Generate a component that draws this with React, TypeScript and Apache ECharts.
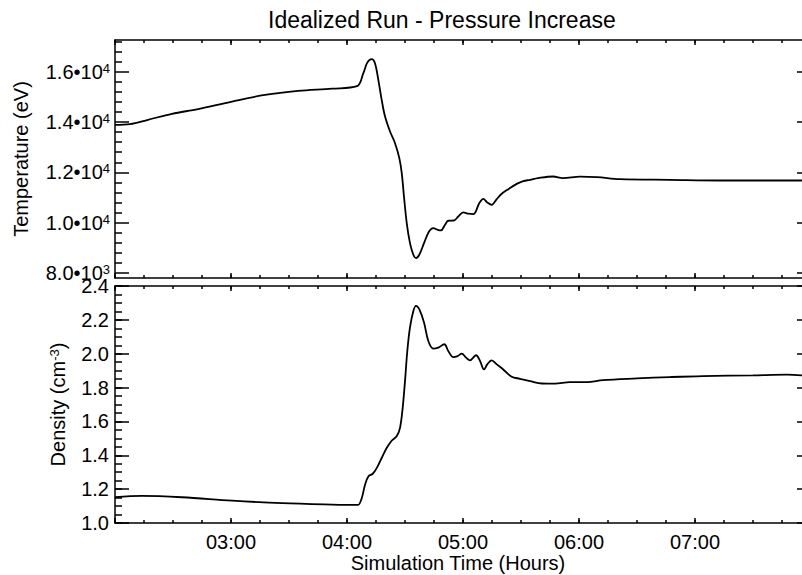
import { useEffect, useRef } from "react";
import * as echarts from "echarts";

const TITLE = "Idealized Run - Pressure Increase";
const X_NAME = "Simulation Time (Hours)";
const TEMP_NAME = "Temperature (eV)";
const DENS_NAME_MAIN = "Density (cm";
const DENS_NAME_SUP = "-3";

const X_MIN = 2;
const X_MAX = 8;
const X_MAJOR = 1;
const X_MINOR = 0.25;
const hourLabels = [3, 4, 5, 6, 7];

const TEMP_MIN = 7790;
const TEMP_MAX = 17270;
const tempTickValues = [8000, 10000, 12000, 14000, 16000];
const tempTickMantissa = ["8.0", "1.0", "1.2", "1.4", "1.6"];
const tempTickExponent = ["3", "4", "4", "4", "4"];
const tempMinorTicks = [
  8400, 8800, 9200, 9600, 10400, 10800, 11200, 11600, 12400, 12800, 13200,
  13600, 14400, 14800, 15200, 15600, 16400, 16800, 17200,
];

const tempTimes = [
  2.0, 2.129, 2.284, 2.491, 2.716, 3.009, 3.293, 3.578, 3.871, 4.086, 4.141,
  4.175, 4.213, 4.241, 4.27, 4.299, 4.328, 4.371, 4.414, 4.451, 4.472, 4.491,
  4.515, 4.543, 4.572, 4.595, 4.623, 4.664, 4.707, 4.744, 4.782, 4.81, 4.845,
  4.873, 4.922, 4.959, 5.003, 5.046, 5.089, 5.141, 5.175, 5.209, 5.247, 5.291,
  5.334, 5.391, 5.463, 5.52, 5.578, 5.647, 5.776, 5.862, 6.009, 6.155, 6.353,
  6.784, 7.216, 7.56, 7.922,
];
const tempValues = [
  13890, 13918, 14090, 14330, 14520, 14820, 15080, 15240, 15330, 15430, 15950,
  16370, 16505, 16345, 15680, 14885, 14220, 13625, 13160, 12565, 11970, 11040,
  9980, 9180, 8715, 8585, 8715, 9180, 9645, 9780, 9710, 9685, 9910, 10070,
  10080, 10240, 10400, 10350, 10335, 10775, 10945, 10800, 10705, 10935, 11145,
  11330, 11540, 11650, 11700, 11768, 11833, 11770, 11830, 11808, 11729, 11700,
  11674, 11674, 11674,
];

const DENS_MIN = 1.0;
const DENS_MAX = 2.4;
const DENS_MAJOR = 0.2;
const DENS_MINOR = 0.05;
const densTimes = [
  2.0, 2.233, 2.578, 3.009, 3.44, 3.871, 4.086, 4.097, 4.127, 4.155, 4.184,
  4.222, 4.256, 4.299, 4.342, 4.385, 4.428, 4.457, 4.48, 4.5, 4.52, 4.543,
  4.572, 4.595, 4.623, 4.664, 4.701, 4.744, 4.787, 4.839, 4.873, 4.916, 4.954,
  4.989, 5.026, 5.06, 5.112, 5.147, 5.181, 5.209, 5.247, 5.291, 5.347, 5.42,
  5.491, 5.578, 5.681, 5.793, 5.922, 6.069, 6.207, 6.5, 6.784, 7.069, 7.5,
  7.793, 7.922,
];
const densValues = [
  1.152, 1.16, 1.152, 1.132, 1.117, 1.109, 1.107, 1.107, 1.146, 1.225, 1.275,
  1.291, 1.324, 1.384, 1.443, 1.486, 1.512, 1.562, 1.68, 1.838, 2.016, 2.155,
  2.253, 2.283, 2.263, 2.184, 2.075, 2.03, 2.036, 2.056, 2.016, 1.98, 1.986,
  2.0, 1.977, 1.961, 1.991, 1.957, 1.907, 1.937, 1.961, 1.937, 1.907, 1.864,
  1.852, 1.838, 1.824, 1.823, 1.832, 1.832, 1.844, 1.854, 1.862, 1.868, 1.872,
  1.876, 1.872,
];

const FONT = "'Liberation Sans', Arial, Helvetica, sans-serif";
const BLACK = "#000000";
const Y_MAJOR_LEN = 14;
const Y_MINOR_LEN = 7;
const X_MAJOR_LEN = 5;
const X_MINOR_LEN = 3;

export default function App() {
  const ref = useRef<HTMLDivElement>(null);

  useEffect(() => {
    if (!ref.current) return;
    const chart = echarts.init(ref.current, undefined, { renderer: "svg" });

    const lineStyle = { color: BLACK, width: 1.5 };
    const textBase = { color: BLACK, fontFamily: FONT, fontSize: 20 };

    const xAxisFor = (gridIndex: number, withLabels: boolean) => {
      const base: any = {
        type: "value",
        gridIndex,
        min: X_MIN,
        max: X_MAX,
        splitLine: { show: false },
        axisLabel: { show: false },
      };
      const major: any = {
        ...base,
        interval: X_MAJOR,
        axisLine: { show: true, onZero: false, lineStyle },
        axisTick: { show: true, inside: true, length: X_MAJOR_LEN, lineStyle },
      };
      const minor: any = {
        ...base,
        interval: X_MINOR,
        axisLine: { show: false, onZero: false },
        axisTick: { show: true, inside: true, length: X_MINOR_LEN, lineStyle },
      };
      return [
        {
          ...major,
          position: "bottom",
          axisLabel: withLabels
            ? {
                show: true,
                margin: 9,
                ...textBase,
                customValues: hourLabels,
                formatter: (v: number) =>
                  (v < 10 ? "0" : "") + String(Math.round(v)) + ":00",
              }
            : { show: false },
          name: withLabels ? X_NAME : "",
          nameLocation: "middle",
          nameGap: 28,
          nameTextStyle: { ...textBase, padding: [0, 10, 0, 0] },
        },
        { ...minor, position: "bottom" },
        { ...major, position: "top" },
        { ...minor, position: "top" },
      ];
    };

    const tempAxisBase: any = {
      type: "value",
      gridIndex: 0,
      min: TEMP_MIN,
      max: TEMP_MAX,
      splitLine: { show: false },
      axisLabel: { show: false },
    };
    const tempMajorTick = {
      show: true,
      inside: true,
      length: Y_MAJOR_LEN,
      lineStyle,
      customValues: tempTickValues,
    };
    const tempMinorTick = {
      show: true,
      inside: true,
      length: Y_MINOR_LEN,
      lineStyle,
      customValues: tempMinorTicks,
    };

    const yAxes: any[] = [
      {
        ...tempAxisBase,
        position: "left",
        axisLine: { show: true, onZero: false, lineStyle },
        axisTick: tempMajorTick,
        axisLabel: {
          show: true,
          margin: 5,
          customValues: tempTickValues,
          formatter: (v: number) => {
            const i = tempTickValues.indexOf(v);
            if (i < 0) return "";
            return `{b|${tempTickMantissa[i]}•10}{s|${tempTickExponent[i]}}`;
          },
          rich: {
            b: { ...textBase },
            s: { ...textBase, fontSize: 13, verticalAlign: "top" },
          },
        },
        name: TEMP_NAME,
        nameLocation: "middle",
        nameRotate: 90,
        nameGap: 84,
        nameTextStyle: { ...textBase },
      },
      {
        ...tempAxisBase,
        position: "left",
        axisLine: { show: false, onZero: false },
        axisTick: tempMinorTick,
      },
      {
        ...tempAxisBase,
        position: "right",
        axisLine: { show: true, onZero: false, lineStyle },
        axisTick: tempMajorTick,
      },
      {
        ...tempAxisBase,
        position: "right",
        axisLine: { show: false, onZero: false },
        axisTick: tempMinorTick,
      },
    ];

    const densBase: any = {
      type: "value",
      gridIndex: 1,
      min: DENS_MIN,
      max: DENS_MAX,
      splitLine: { show: false },
      axisLabel: { show: false },
    };
    const densMajor: any = {
      ...densBase,
      interval: DENS_MAJOR,
      axisLine: { show: true, onZero: false, lineStyle },
      axisTick: { show: true, inside: true, length: Y_MAJOR_LEN, lineStyle },
    };
    const densMinor: any = {
      ...densBase,
      interval: DENS_MINOR,
      axisLine: { show: false, onZero: false },
      axisTick: { show: true, inside: true, length: Y_MINOR_LEN, lineStyle },
    };
    yAxes.push(
      {
        ...densMajor,
        position: "left",
        axisLabel: {
          show: true,
          margin: 6,
          ...textBase,
          formatter: (v: number) => v.toFixed(1),
        },
        name: `{n|${DENS_NAME_MAIN}}{s|${DENS_NAME_SUP}}{n|)}`,
        nameLocation: "middle",
        nameRotate: 90,
        nameGap: 47,
        nameTextStyle: {
          ...textBase,
          rich: {
            n: { ...textBase },
            s: { ...textBase, fontSize: 13, verticalAlign: "top" },
          },
        },
      },
      { ...densMinor, position: "left" },
      { ...densMajor, position: "right" },
      { ...densMinor, position: "right" }
    );

    const option: any = {
      animation: false,
      backgroundColor: "#ffffff",
      title: {
        text: TITLE,
        left: 268,
        top: 8,
        padding: 0,
        textStyle: {
          color: BLACK,
          fontFamily: FONT,
          fontSize: 23,
          fontWeight: "normal",
        },
      },
      grid: [
        { left: 115, top: 40, width: 696, height: 238, containLabel: false, outerBoundsMode: "none" },
        { left: 115, top: 286, width: 696, height: 237, containLabel: false, outerBoundsMode: "none" },
      ],
      xAxis: [...xAxisFor(0, false), ...xAxisFor(1, true)],
      yAxis: yAxes,
      series: [
        {
          type: "line",
          xAxisIndex: 0,
          yAxisIndex: 0,
          data: tempTimes.map((t, i) => [t, tempValues[i]]),
          showSymbol: false,
          smooth: 0.35,
          lineStyle: { color: BLACK, width: 1.8 },
        },
        {
          type: "line",
          xAxisIndex: 4,
          yAxisIndex: 4,
          data: densTimes.map((t, i) => [t, densValues[i]]),
          showSymbol: false,
          smooth: 0.35,
          lineStyle: { color: BLACK, width: 1.8 },
        },
      ],
    };

    chart.setOption(option);
    return () => chart.dispose();
  }, []);

  return (
    <div
      ref={ref}
      style={{
        position: "fixed",
        left: 0,
        top: 0,
        width: 802,
        height: 575,
        background: "#ffffff",
      }}
    />
  );
}
